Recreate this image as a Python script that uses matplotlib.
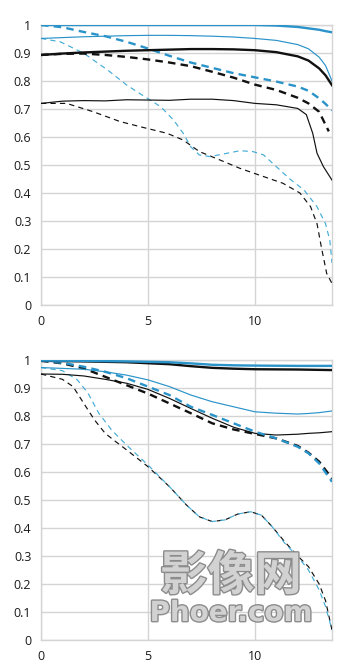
import matplotlib
matplotlib.use("Agg")
import matplotlib.pyplot as plt
import matplotlib.patheffects as pe

plt.rcParams['font.family'] = ['Open Sans', 'DejaVu Sans']

BLUE = '#2a93c9'
LBLUE = '#45acd6'
BLACK = '#111111'

# ---------------- top panel ----------------
top_x = [0, 1, 2, 3, 4, 5, 6, 7, 8, 9, 10, 11, 12, 12.5, 13, 13.3, 13.6]
top_thick_blue_solid = [1.0, 1.0, 1.0, 1.0, 1.0, 1.0, 1.0, 1.0, 1.0, 1.0, 1.0, 0.998, 0.993, 0.988, 0.983, 0.978, 0.974]
top_thin_blue_solid = [0.952, 0.955, 0.958, 0.96, 0.962, 0.963, 0.963, 0.962, 0.96, 0.957, 0.952, 0.945, 0.93, 0.915, 0.885, 0.855, 0.80]
top_thick_black_solid = [0.893, 0.898, 0.902, 0.905, 0.908, 0.91, 0.912, 0.914, 0.914, 0.913, 0.91, 0.903, 0.888, 0.873, 0.845, 0.82, 0.785]
top_thick_blue_dashed = [1.0, 0.992, 0.975, 0.96, 0.94, 0.916, 0.89, 0.866, 0.847, 0.828, 0.813, 0.798, 0.78, 0.765, 0.738, 0.718, 0.695]

top_x_bd = [0, 1, 2, 3, 4, 5, 6, 7, 8, 9, 10, 11, 12, 12.5, 13, 13.45]
top_thick_black_dashed = [0.893, 0.897, 0.898, 0.893, 0.886, 0.877, 0.866, 0.853, 0.833, 0.812, 0.787, 0.768, 0.74, 0.72, 0.69, 0.62]

top_x_ts = [0, 1, 2, 3, 4, 5, 6, 7, 8, 9, 10, 11, 12, 12.4, 12.7, 12.9, 13.2, 13.6]
top_thin_black_solid = [0.72, 0.728, 0.73, 0.729, 0.733, 0.732, 0.731, 0.735, 0.735, 0.73, 0.72, 0.715, 0.702, 0.68, 0.613, 0.542, 0.494, 0.446]

top_x_lbd = [0, 0.9, 2.0, 3.1, 4.0, 4.6, 5.6, 6.2, 6.65, 7.0, 7.4, 7.9, 8.7, 9.3, 9.9, 10.4, 11.0, 11.6, 12.3, 12.9, 13.3, 13.5, 13.6]
top_thin_blue_dashed = [0.952, 0.94, 0.899, 0.84, 0.786, 0.756, 0.708, 0.66, 0.613, 0.565, 0.536, 0.53, 0.542, 0.551, 0.548, 0.536, 0.494, 0.452, 0.41, 0.351, 0.29, 0.23, 0.15]

top_x_kd = [0, 1.2, 2.45, 3.7, 4.94, 5.9, 6.65, 7.4, 8.36, 9.3, 10.2, 11.3, 12.1, 12.6, 12.9, 13.1, 13.35, 13.6]
top_thin_black_dashed = [0.72, 0.72, 0.69, 0.655, 0.631, 0.613, 0.589, 0.548, 0.518, 0.488, 0.464, 0.435, 0.40, 0.351, 0.29, 0.208, 0.113, 0.077]

# ---------------- bottom panel ----------------
bot_x_top = [0, 2, 4, 6, 7, 8, 9, 10, 12, 13.6]
bot_thick_blue_solid = [0.998, 0.997, 0.995, 0.992, 0.988, 0.983, 0.981, 0.98, 0.979, 0.979]
bot_thick_black_solid = [0.997, 0.995, 0.992, 0.985, 0.978, 0.972, 0.969, 0.967, 0.966, 0.964]

bot_x = [0, 1, 2, 3, 4, 5, 6, 7, 8, 9, 10, 11, 12, 12.5, 13, 13.6]
bot_thin_blue_solid = [0.973, 0.97, 0.967, 0.958, 0.946, 0.929, 0.905, 0.875, 0.851, 0.833, 0.815, 0.81, 0.807, 0.809, 0.812, 0.818]
bot_thick_blue_dashed = [0.998, 0.99, 0.976, 0.958, 0.935, 0.905, 0.875, 0.833, 0.804, 0.774, 0.744, 0.72, 0.69, 0.667, 0.631, 0.565]
bot_thick_black_dashed = [0.997, 0.988, 0.97, 0.94, 0.91, 0.88, 0.845, 0.81, 0.774, 0.752, 0.736, 0.72, 0.693, 0.669, 0.637, 0.577]
bot_thin_black_solid = [0.95, 0.949, 0.943, 0.931, 0.917, 0.895, 0.863, 0.827, 0.792, 0.76, 0.738, 0.732, 0.735, 0.738, 0.74, 0.744]

bot_x_lbd = [0, 1, 1.7, 2.2, 2.7, 3.3, 4, 5, 6, 6.8, 7.4, 8, 8.6, 9.2, 9.8, 10.3, 10.8, 11.4, 12, 12.5, 13, 13.3, 13.6]
bot_thin_blue_dashed = [0.973, 0.962, 0.929, 0.881, 0.81, 0.75, 0.696, 0.625, 0.548, 0.482, 0.44, 0.423, 0.429, 0.45, 0.458, 0.446, 0.405, 0.345, 0.298, 0.25, 0.179, 0.119, 0.036]

bot_x_kd = [0, 1, 1.5, 2, 2.5, 3, 3.5, 4, 5, 6, 6.8, 7.4, 8, 8.6, 9.2, 9.8, 10.3, 10.8, 11.4, 12, 12.5, 13, 13.3, 13.6]
bot_thin_black_dashed = [0.95, 0.931, 0.905, 0.845, 0.786, 0.738, 0.708, 0.679, 0.619, 0.548, 0.482, 0.44, 0.423, 0.429, 0.45, 0.458, 0.446, 0.405, 0.35, 0.30, 0.262, 0.20, 0.14, 0.035]

x_ticks = [0, 5, 10]
y_ticks = [0, 0.1, 0.2, 0.3, 0.4, 0.5, 0.6, 0.7, 0.8, 0.9, 1]
y_labels = ['0', '0.1', '0.2', '0.3', '0.4', '0.5', '0.6', '0.7', '0.8', '0.9', '1']

W, H = 357, 672
fig = plt.figure(figsize=(W / 100, H / 100), dpi=100)
ax1 = fig.add_axes([41 / W, 1 - 305 / H, 291 / W, 280 / H])
ax2 = fig.add_axes([41 / W, 1 - 640 / H, 291 / W, 280 / H])

THICK = 1.7
THIN = 0.85
DASH_THICK = (0, (3.2, 2.2))
DASH_THIN = (0, (4.5, 3.5))


def style(ax):
    ax.set_xlim(0, 13.6)
    ax.set_ylim(0, 1)
    ax.set_xticks(x_ticks)
    ax.set_xticklabels([str(t) for t in x_ticks])
    ax.set_yticks(y_ticks)
    ax.set_yticklabels(y_labels)
    ax.grid(True, color='#d4d4d4', linewidth=1.0, zorder=0)
    ax.set_axisbelow(True)
    for s in ax.spines.values():
        s.set_color('#d4d4d4')
        s.set_linewidth(1.0)
    ax.tick_params(length=0, labelsize=9, colors='#1a1a1a', pad=7)


def draw(ax, data):
    for x, y, c, lw, ls in data:
        ax.plot(x, y, color=c, linewidth=lw, linestyle=ls, zorder=3)


draw(ax1, [
    (top_x_kd, top_thin_black_dashed, BLACK, THIN, DASH_THIN),
    (top_x_lbd, top_thin_blue_dashed, LBLUE, THIN, DASH_THIN),
    (top_x_ts, top_thin_black_solid, BLACK, THIN, '-'),
    (top_x_bd, top_thick_black_dashed, BLACK, THICK, DASH_THICK),
    (top_x, top_thick_blue_dashed, BLUE, THICK, DASH_THICK),
    (top_x, top_thick_black_solid, BLACK, THICK, '-'),
    (top_x, top_thin_blue_solid, BLUE, THIN, '-'),
    (top_x, top_thick_blue_solid, BLUE, THICK, '-'),
])

draw(ax2, [
    (bot_x_kd, bot_thin_black_dashed, BLACK, THIN, DASH_THIN),
    (bot_x_lbd, bot_thin_blue_dashed, LBLUE, THIN, DASH_THIN),
    (bot_x, bot_thin_black_solid, BLACK, THIN, '-'),
    (bot_x, bot_thick_black_dashed, BLACK, THICK, DASH_THICK),
    (bot_x, bot_thick_blue_dashed, BLUE, THICK, DASH_THICK),
    (bot_x, bot_thin_blue_solid, BLUE, THIN, '-'),
    (bot_x_top, bot_thick_black_solid, BLACK, THICK, '-'),
    (bot_x_top, bot_thick_blue_solid, BLUE, THICK, '-'),
])

for ax in (ax1, ax2):
    style(ax)

# watermark
effects = [pe.Stroke(linewidth=2.0, foreground='#8c8c8c'), pe.Normal()]
fig.text(231 / W, 1 - 576 / H, '影像网', ha='center', va='center',
         fontsize=34, fontweight='bold', color='#d2d2d2',
         family=['Noto Sans CJK SC', 'DejaVu Sans'], path_effects=effects, zorder=2)
fig.text(231 / W, 1 - 613 / H, 'Phoer.com', ha='center', va='center',
         fontsize=20, fontweight='bold', color='#d2d2d2',
         family=['DejaVu Sans'], path_effects=effects, zorder=2)

fig.savefig('out.png', dpi=100)
